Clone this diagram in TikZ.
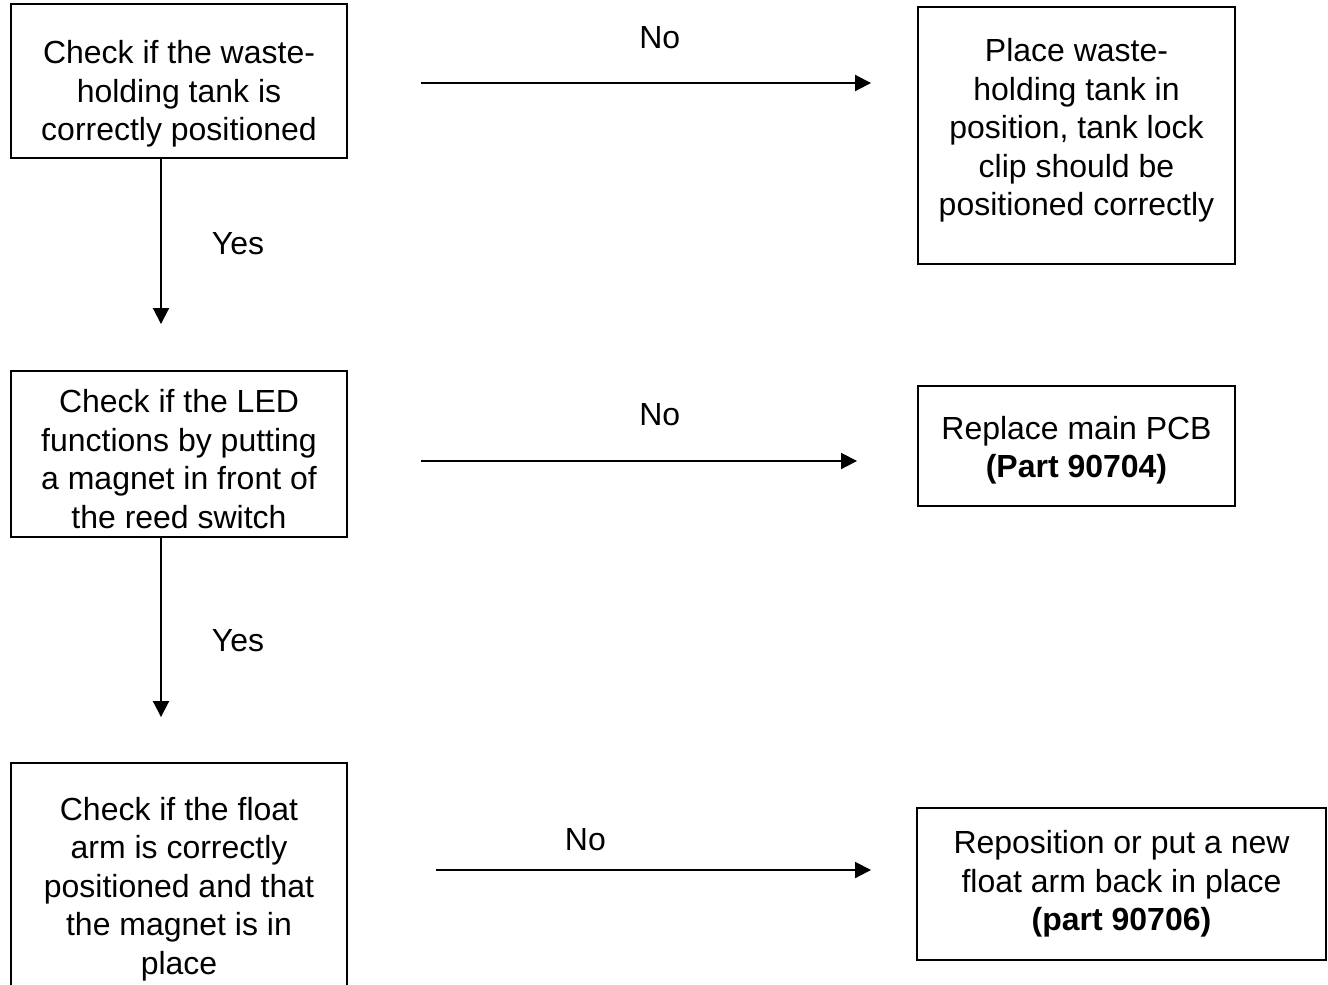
\documentclass[tikz,border=0pt]{standalone}
\usepackage{fontspec}
\setmainfont{Liberation Sans}
\usetikzlibrary{arrows.meta}
\tikzset{
 txt/.style={font=\fontsize{18.2}{21.9}\selectfont},
 stepbox/.style={txt, draw, line width=1.1pt, align=center, inner sep=0pt},
 arr/.style={line width=1.1pt, -{Triangle[length=0.32cm,width=0.32cm]}}
}
\begin{document}
\begin{tikzpicture}
\useasboundingbox (0,0) rectangle (26.56,-19.68);
\clip (0,0) rectangle (26.56,-19.68);

\node[stepbox, minimum width=6.72cm, minimum height=3.08cm, text height=72pt] (chktank) at (3.58,-1.62)
 {Check if the waste-\\holding tank is\\correctly positioned};
\node[stepbox, minimum width=6.34cm, minimum height=5.14cm, text depth=9.5pt] (placetank) at (21.53,-2.71)
 {Place waste-\\holding tank in\\position, tank lock\\clip should be\\positioned correctly};
\node[stepbox, minimum width=6.72cm, minimum height=3.32cm, text height=84.7pt] (chkled) at (3.58,-9.08)
 {Check if the LED\\functions by putting\\a magnet in front of\\the reed switch};
\node[stepbox, minimum width=6.34cm, minimum height=2.40cm, text height=39.7pt] (newpcb) at (21.53,-8.92)
 {Replace main PCB\\\textbf{(Part 90704)}};
\node[stepbox, minimum width=6.72cm, minimum height=4.92cm, text height=104.3pt] (chkfloat) at (3.58,-17.72)
 {Check if the float\\arm is correctly\\positioned and that\\the magnet is in\\place};
\node[stepbox, minimum width=8.18cm, minimum height=3.04cm] (newfloat) at (22.43,-17.68)
 {Reposition or put a new\\float arm back in place\\\textbf{(part 90706)}};

\draw[arr, shorten <=1.46cm, shorten >=0.92cm] ([yshift=-0.04cm]chktank.east) coordinate (n1)
 -- (n1 -| placetank.west) node[txt, pos=0.548, yshift=0.9cm] (no1) {No};
\draw[arr, shorten <=1.46cm, shorten >=1.2cm] ([yshift=-0.14cm]chkled.east) coordinate (n2)
 -- (n2 -| newpcb.west) node[txt, pos=0.548, yshift=0.92cm] (no2) {No};
\draw[arr, shorten <=1.76cm, shorten >=0.9cm] ([yshift=0.32cm]chkfloat.east) coordinate (n3)
 -- (n3 -| newfloat.west) node[txt, pos=0.418, yshift=0.6cm] (no3) {No};

\draw[arr, shorten >=0.92cm] ([xshift=-0.36cm]chktank.south) -- ([xshift=-0.36cm]chkled.north)
 node[txt, pos=0.4, xshift=1.54cm] (yes1) {Yes};
\draw[arr, shorten >=0.9cm] ([xshift=-0.36cm]chkled.south) -- ([xshift=-0.36cm]chkfloat.north)
 node[txt, pos=0.46, xshift=1.54cm] (yes2) {Yes};
\end{tikzpicture}
\end{document}
